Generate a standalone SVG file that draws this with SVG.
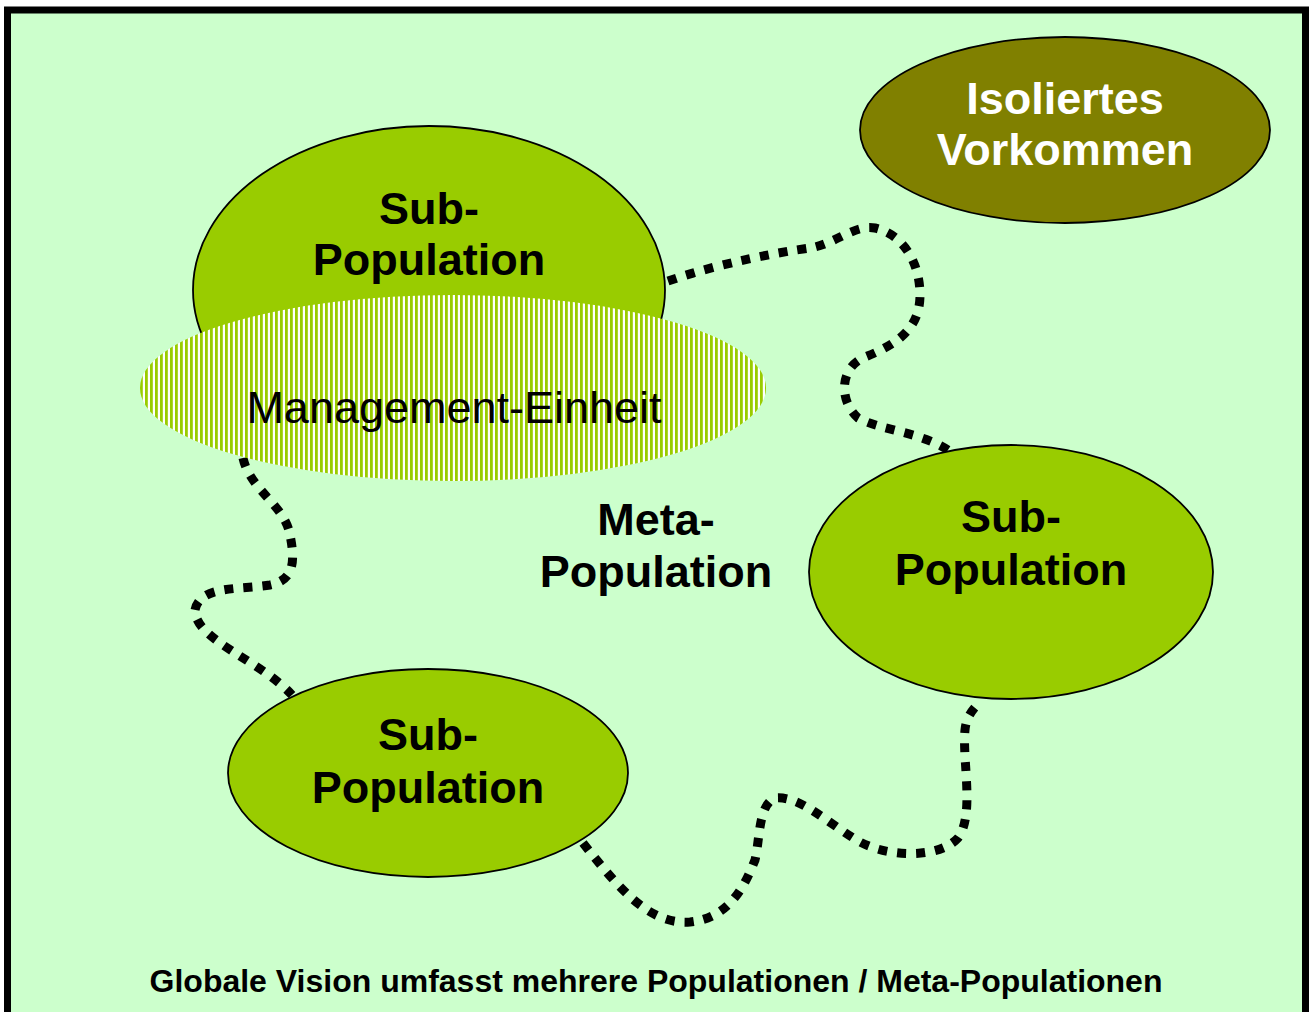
<svg xmlns="http://www.w3.org/2000/svg" width="1311" height="1012" viewBox="0 0 1311 1012">
  <style>
    .bold { font-family: "Liberation Sans", Arial, sans-serif; font-weight: bold; font-size: 45px; text-anchor: middle; fill: #000; }
    .white { fill: #fff; }
    .reg { font-family: "Liberation Sans", Arial, sans-serif; font-size: 45px; text-anchor: middle; fill: #000; }
    .sub { fill: #99CC00; stroke: #000; stroke-width: 1.8; }
    .dots { fill: none; stroke: #000; stroke-width: 9; stroke-dasharray: 9 10; }
  </style>
  <defs>
    <pattern id="stripes" x="0" y="0" width="5" height="10" patternUnits="userSpaceOnUse">
      <rect x="0" y="0" width="5" height="10" fill="#ffffff"/>
      <rect x="0" y="0" width="2.8" height="10" fill="#99CC00"/>
    </pattern>
  </defs>
  <rect x="0" y="0" width="1311" height="1012" fill="#ffffff"/>
  <rect id="frame" x="7.5" y="10" width="1298" height="1060" fill="#CCFFCC" stroke="#000" stroke-width="7"/>

  <g id="connectors">
    <path class="dots" d="M668,281 C720,263 780,252 810,248 C835,244 855,224 875,228 C905,235 920,265 920,295 C920,330 895,345 865,357 C840,367 838,400 858,418 C880,430 920,432 948,450"/>
    <path class="dots" d="M243,458 C250,490 285,505 290,535 C295,560 295,580 270,585 C240,590 200,585 195,610 C195,640 260,660 292,695"/>
    <path class="dots" d="M583,843 C620,890 650,925 690,922 C730,918 745,885 755,860 C760,840 758,805 775,798 C800,795 830,825 860,842 C890,858 940,858 958,838 C975,815 962,760 965,730 C966,718 972,710 980,702"/>
  </g>

  <g id="isoliert">
    <ellipse cx="1065" cy="130" rx="205" ry="93" fill="#808000" stroke="#000" stroke-width="1.8"/>
    <text class="bold white" x="1065" y="114">Isoliertes</text>
    <text class="bold white" x="1065" y="165">Vorkommen</text>
  </g>

  <g id="subpop-top">
    <ellipse class="sub" cx="429" cy="290" rx="236" ry="164"/>
    <text class="bold" x="429" y="224">Sub-</text>
    <text class="bold" x="429" y="275">Population</text>
  </g>

  <g id="management">
    <ellipse cx="453" cy="388" rx="313" ry="93" fill="url(#stripes)"/>
    <text class="reg" x="454" y="423">Management-Einheit</text>
  </g>

  <g id="meta">
    <text class="bold" x="656" y="535">Meta-</text>
    <text class="bold" x="656" y="587">Population</text>
  </g>

  <g id="subpop-right">
    <ellipse class="sub" cx="1011" cy="572" rx="202" ry="127"/>
    <text class="bold" x="1011" y="532">Sub-</text>
    <text class="bold" x="1011" y="585">Population</text>
  </g>

  <g id="subpop-bottom">
    <ellipse class="sub" cx="428" cy="773" rx="200" ry="104"/>
    <text class="bold" x="428" y="750">Sub-</text>
    <text class="bold" x="428" y="803">Population</text>
  </g>

  <text id="caption" x="656" y="992" font-family="Liberation Sans, Arial, sans-serif" font-weight="bold" font-size="32" text-anchor="middle" fill="#000">Globale Vision umfasst mehrere Populationen / Meta-Populationen</text>
</svg>
